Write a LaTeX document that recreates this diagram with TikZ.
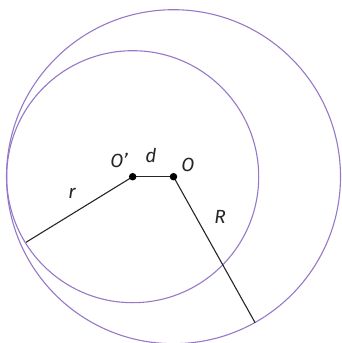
\documentclass[tikz,border=0pt]{standalone}
\usepackage{fontspec}
\setmainfont{Fira Sans}
\definecolor{circ}{RGB}{150,120,200}
\begin{document}
\begin{tikzpicture}[x=1pt,y=-1pt,
  circle line/.style={draw=circ,line width=1.1pt},
  radius line/.style={draw=black!85,line width=1.1pt},
  dot/.style={circle,fill=black,inner sep=0pt,minimum size=7.5pt},
  lbl/.style={font=\fontsize{19}{19}\selectfont\itshape,text=black!85,inner sep=0pt}]
\useasboundingbox (0,0) rectangle (342,343);
\coordinate (Oc) at (173.5,176.7);
\coordinate (Pc) at (132.7,176.7);
\draw[circle line] (Oc) circle[radius=167];
\draw[circle line] (Pc) circle[radius=126];
\path (Pc) ++(-106.7,65.6) coordinate (rend);
\path (Oc) ++(81.6,146) coordinate (Rend);
\draw[radius line] (Pc) -- (rend);
\draw[radius line] (Oc) -- (Rend);
\draw[radius line] (Pc) -- (Oc);
\node[dot] (P) at (Pc) {};
\node[dot] (O) at (Oc) {};
\node[lbl] (lP) at (119,160) {O’};
\node[lbl] (ld) at (151,156) {d};
\node[lbl] (lO) at (188,165) {O};
\node[lbl] (lr) at (72,193) {r};
\node[lbl] (lR) at (220,217) {R};
\end{tikzpicture}
\end{document}
